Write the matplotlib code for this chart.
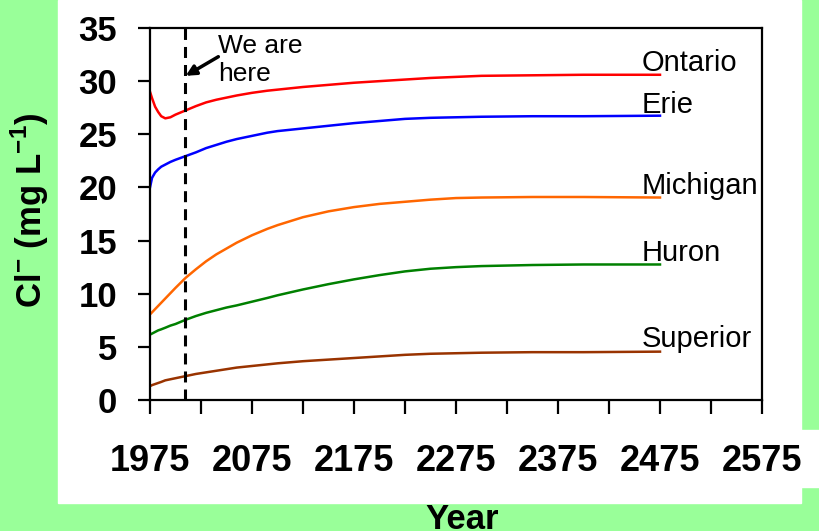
import numpy as np
import matplotlib
matplotlib.use("Agg")
import matplotlib.pyplot as plt
from matplotlib.patches import Rectangle

plt.rcParams['font.family'] = ['Liberation Sans', 'DejaVu Sans']
plt.rcParams['mathtext.fontset'] = 'custom'
plt.rcParams['mathtext.rm'] = 'Liberation Sans'
plt.rcParams['mathtext.bf'] = 'Liberation Sans:bold'

# years (same for every lake)
years = [1975, 1977, 1980, 1983, 1986, 1990, 1995, 2000, 2010, 2020,
         2030, 2040, 2050, 2060, 2075, 2090, 2100, 2125, 2150, 2175,
         2200, 2225, 2250, 2275, 2300, 2350, 2400, 2475]

ontario = [29.0, 28.4, 27.6, 27.1, 26.7, 26.5, 26.6, 26.85, 27.25, 27.65,
           28.0, 28.25, 28.45, 28.65, 28.9, 29.1, 29.2, 29.45, 29.65, 29.85,
           30.0, 30.15, 30.3, 30.4, 30.5, 30.55, 30.6, 30.6]
erie = [20.0, 20.9, 21.4, 21.7, 21.95, 22.15, 22.4, 22.6, 22.95, 23.3,
        23.7, 24.0, 24.3, 24.55, 24.85, 25.15, 25.3, 25.55, 25.8, 26.05,
        26.25, 26.45, 26.55, 26.6, 26.65, 26.7, 26.7, 26.75]
michigan = [8.05, 8.25, 8.55, 8.85, 9.15, 9.55, 10.05, 10.55, 11.5, 12.3,
            13.05, 13.7, 14.25, 14.8, 15.5, 16.1, 16.45, 17.2, 17.75, 18.15,
            18.45, 18.65, 18.85, 19.0, 19.05, 19.1, 19.1, 19.05]
huron = [6.15, 6.25, 6.4, 6.55, 6.65, 6.8, 7.0, 7.15, 7.55, 7.9,
         8.2, 8.45, 8.7, 8.9, 9.25, 9.6, 9.85, 10.4, 10.9, 11.35,
         11.75, 12.1, 12.35, 12.5, 12.6, 12.7, 12.75, 12.75]
superior = [1.3, 1.4, 1.5, 1.6, 1.7, 1.85, 1.95, 2.05, 2.25, 2.45,
            2.6, 2.75, 2.9, 3.05, 3.2, 3.35, 3.45, 3.65, 3.8, 3.95,
            4.1, 4.25, 4.35, 4.4, 4.45, 4.5, 4.5, 4.55]

lakes = ['Ontario', 'Erie', 'Michigan', 'Huron', 'Superior']
series = [ontario, erie, michigan, huron, superior]
colors = ['#ff0000', '#0000ff', '#ff6600', '#008000', '#993300']
label_y = [31.0, 27.0, 19.4, 13.1, 5.0]
label_x = 2457

now_year = 2009

fig = plt.figure(figsize=(8.2, 5.31), dpi=100, facecolor='#99ff99')
# white panel behind the chart
fig.patches.append(Rectangle((58/820, 1 - 503/531), 743/820, 503/531,
                             transform=fig.transFigure, color='white', zorder=-10))
fig.patches.append(Rectangle((801/820, 1 - 487/531), 19/820, 57/531,
                             transform=fig.transFigure, color='white', zorder=-10))

ax = fig.add_axes([150/820, 131/531, 612/820, 372/531])
ax.set_facecolor('white')

for name, vals, c, ly in zip(lakes, series, colors, label_y):
    ax.plot(years, vals, color=c, lw=1.8, solid_joinstyle='round')
    ax.text(label_x, ly, name, fontsize=21, va='baseline', ha='left')

ax.axvline(now_year, color='black', lw=2.2, ls=(0, (3.6, 2.3)))
ax.annotate('', xy=(now_year + 1, 30.5), xytext=(2042, 32.3),
            arrowprops=dict(arrowstyle='-|>', lw=2.5, color='black',
                            mutation_scale=15, shrinkA=0, shrinkB=0))
ax.text(2042, 34.4, 'We are\nhere', fontsize=19, va='top', ha='left')

ax.set_xlim(1975, 2575)
ax.set_ylim(0, 35)
ax.set_xticks(np.arange(1975, 2576, 100))
ax.set_xticks(np.arange(2025, 2576, 100), minor=True)
ax.set_yticks(np.arange(0, 36, 5))

for sp in ax.spines.values():
    sp.set_linewidth(1.6)

ax.tick_params(axis='y', direction='out', length=8.6, width=1.6, pad=15,
               labelsize=25)
ax.tick_params(axis='x', which='both', direction='out', length=10, width=1.6,
               pad=22, labelsize=26)
for lab in ax.get_xticklabels() + ax.get_yticklabels():
    lab.set_fontweight('bold')

fig.text(30/820, 1 - 210/531, r'Cl$^{\mathbf{-}}$ (mg L$^{\mathbf{-1}}$)',
         rotation=90, fontsize=25, fontweight='bold', ha='center', va='center')
fig.text(462/820, 1 - 503/531, 'Year', fontsize=25, fontweight='bold',
         ha='center', va='top')

fig.savefig('out.png', dpi=100, facecolor=fig.get_facecolor())
